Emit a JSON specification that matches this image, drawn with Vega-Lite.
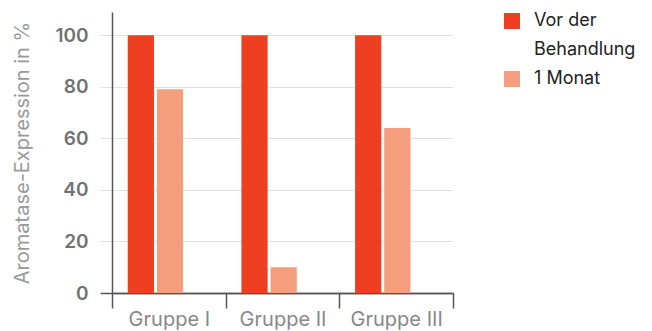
{
  "$schema": "https://vega.github.io/schema/vega-lite/v6.json",
  "autosize": "none",
  "width": 341,
  "height": 281,
  "padding": {"left": 112, "top": 12, "right": 199, "bottom": 38},
  "background": "white",
  "data": {
    "values": [
      {"gruppe": "Gruppe I", "zeit": "Vor der Behandlung", "wert": 100},
      {"gruppe": "Gruppe I", "zeit": "1 Monat", "wert": 79},
      {"gruppe": "Gruppe II", "zeit": "Vor der Behandlung", "wert": 100},
      {"gruppe": "Gruppe II", "zeit": "1 Monat", "wert": 10},
      {"gruppe": "Gruppe III", "zeit": "Vor der Behandlung", "wert": 100},
      {"gruppe": "Gruppe III", "zeit": "1 Monat", "wert": 64}
    ]
  },
  "config": {
    "view": {"stroke": null},
    "font": "Inter",
    "style": {"guide-label": {"lineHeight": 29}}
  },
  "mark": {"type": "bar"},
  "encoding": {
    "x": {
      "field": "gruppe",
      "type": "nominal",
      "sort": ["Gruppe I", "Gruppe II", "Gruppe III"],
      "scale": {"paddingInner": 0, "paddingOuter": 0},
      "axis": {
        "title": null,
        "labelAngle": 0,
        "labelFontSize": 20,
        "labelColor": "#888888",
        "labelFont": "Inter",
        "labelPadding": 1,
        "tickBand": "extent",
        "tickSize": 15,
        "tickColor": "#555555",
        "tickWidth": 1.5,
        "domainColor": "#555555",
        "domainWidth": 1.5,
        "grid": false
      }
    },
    "xOffset": {
      "field": "zeit",
      "type": "nominal",
      "sort": ["Vor der Behandlung", "1 Monat"],
      "scale": {"paddingInner": 0.1, "paddingOuter": 1.01, "align": 0.27}
    },
    "y": {
      "field": "wert",
      "type": "quantitative",
      "scale": {"domain": [0, 109], "nice": false},
      "axis": {
        "title": "Aromatase-Expression in %",
        "titleFontSize": 20,
        "titleFontWeight": "normal",
        "titleColor": "#9a9a9a",
        "titleFont": "Inter",
        "titlePadding": 22,
        "values": [0, 20, 40, 60, 80, 100],
        "labelFontSize": 19,
        "labelFontWeight": 600,
        "labelColor": "#727272",
        "labelFont": "Inter",
        "labelPadding": 12,
        "tickSize": 12,
        "tickColor": {"condition": {"test": "datum.value === 0", "value": "#555555"}, "value": "#e2e2e2"},
        "tickWidth": {"condition": {"test": "datum.value === 0", "value": 1.5}, "value": 1},
        "grid": true,
        "gridColor": {"condition": {"test": "datum.value === 0", "value": "#555555"}, "value": "#e2e2e2"},
        "gridWidth": {"condition": {"test": "datum.value === 0", "value": 1.5}, "value": 1},
        "domainColor": "#555555",
        "domainWidth": 1.5
      }
    },
    "color": {
      "field": "zeit",
      "type": "nominal",
      "sort": ["Vor der Behandlung", "1 Monat"],
      "scale": {"domain": ["Vor der Behandlung", "1 Monat"], "range": ["#EE3F23", "#F59E7D"]},
      "legend": {
        "title": null,
        "orient": "right",
        "offset": 50,
        "symbolType": "square",
        "symbolSize": 256,
        "symbolStrokeWidth": 0,
        "symbolOpacity": 1,
        "labelFontSize": 18,
        "labelColor": "#222222",
        "labelFont": "Inter",
        "labelOffset": 13,
        "labelLimit": 200,
        "rowPadding": 11,
        "labelExpr": "datum.label == 'Vor der Behandlung' ? ['Vor der', 'Behandlung'] : datum.label"
      }
    }
  }
}
